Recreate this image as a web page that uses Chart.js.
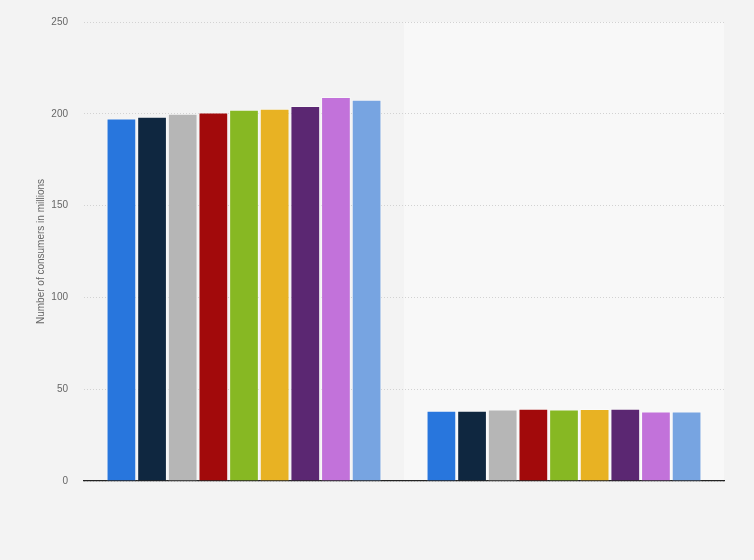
<!DOCTYPE html>
<html>
<head>
<meta charset="utf-8">
<script src="https://cdn.jsdelivr.net/npm/chart.js@4"></script>
<style>
  html, body { margin: 0; padding: 0; background: #f3f3f3; }
  canvas { display: block; }
</style>
</head>
<body>
<canvas id="chart" width="754" height="560"></canvas>
<script>
// categories (labels are not shown in the picture)
const categories = ['Group A', 'Group B'];

// series (legend hidden in the picture)
const seriesLabels = ['Series 1', 'Series 2', 'Series 3', 'Series 4', 'Series 5', 'Series 6', 'Series 7', 'Series 8', 'Series 9'];
const seriesColors = ['#2876dd', '#0f2740', '#b6b6b6', '#a20a0b', '#87b823', '#e8b223', '#5b2772', '#c272da', '#77a4e1'];

// values, group A then group B
const groupAValues = [197.4, 198.4, 200.0, 200.7, 202.2, 202.8, 204.3, 209.2, 207.7];
const groupBValues = [38.3, 38.2, 38.9, 39.4, 38.9, 39.2, 39.3, 37.8, 37.8];

const yTicks = [0, 50, 100, 150, 200, 250];

// lighter band behind the second category
const bandPlugin = {
    id: 'band',
    beforeDraw(chart) {
        const { ctx, chartArea, scales } = chart;
        const x = scales.x;
        const half = (x.getPixelForValue(1) - x.getPixelForValue(0)) / 2;
        const left = x.getPixelForValue(1) - half;
        ctx.save();
        ctx.fillStyle = '#f8f8f8';
        ctx.fillRect(left, chartArea.top, chartArea.right - left, chartArea.bottom - chartArea.top);
        ctx.restore();
    }
};

const datasets = seriesLabels.map((label, i) => ({
    label: label,
    data: [groupAValues[i], groupBValues[i]],
    backgroundColor: seriesColors[i],
    borderColor: 'rgba(255,255,255,0.45)',
    borderWidth: 1,
    categoryPercentage: 0.862,
    barPercentage: 0.97
}));

new Chart(document.getElementById('chart'), {
    type: 'bar',
    data: { labels: categories, datasets: datasets },
    options: {
        responsive: false,
        animation: false,
        layout: { padding: { left: 35, right: 30, top: 18, bottom: 71 } },
        plugins: {
            legend: { display: false },
            tooltip: { enabled: false }
        },
        scales: {
            x: {
                grid: { display: false },
                ticks: { display: false },
                border: { display: true, color: '#222', width: 1.2 }
            },
            y: {
                min: 0,
                max: 250,
                afterBuildTicks: (scale) => { scale.ticks = yTicks.map(v => ({ value: v })); },
                afterFit: (scale) => { scale.width = 49; },
                ticks: {
                    padding: 16,
                    color: '#666',
                    font: { family: 'Arial, "Liberation Sans", sans-serif', size: 10 }
                },
                grid: { color: '#d2d2d2', drawTicks: false, lineWidth: 1 },
                border: { display: false, dash: [1, 2] },
                title: {
                    display: true,
                    text: 'Number of consumers in millions',
                    color: '#666',
                    font: { family: 'Arial, "Liberation Sans", sans-serif', size: 10 },
                    padding: { top: 0, bottom: 0 }
                }
            }
        }
    },
    plugins: [bandPlugin]
});
</script>
</body>
</html>
